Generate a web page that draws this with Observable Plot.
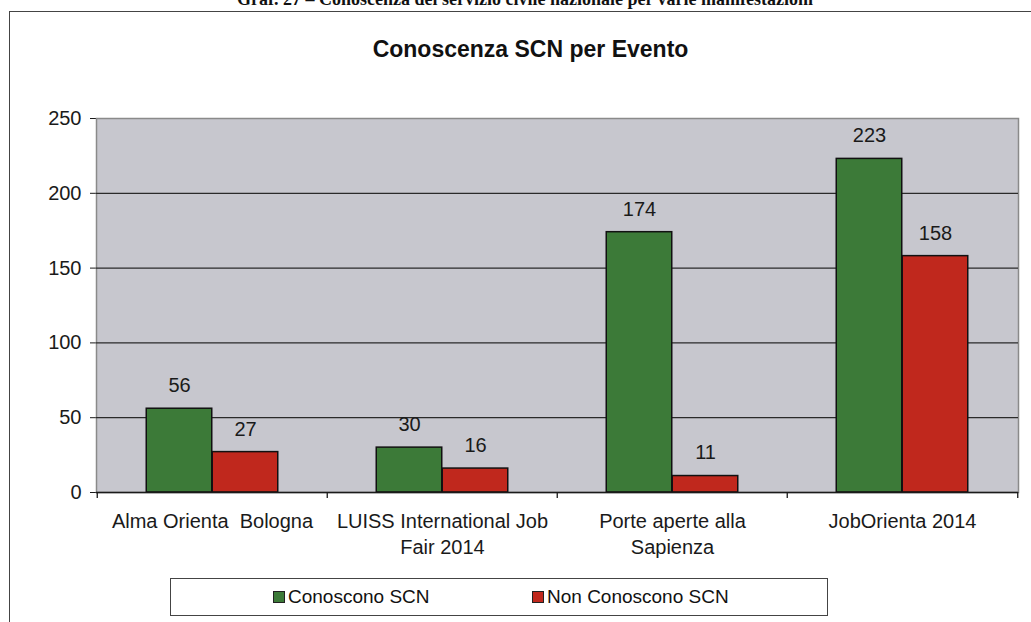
<!DOCTYPE html>
<html>
<head>
<meta charset="utf-8">
<script src="https://cdn.jsdelivr.net/npm/d3@7"></script>
<script src="https://cdn.jsdelivr.net/npm/@observablehq/plot@0.6"></script>
<style>
  html, body { margin: 0; padding: 0; background: #fff; }
  #wrap { position: relative; width: 1031px; height: 622px; overflow: hidden; background: #fff; font-family: "Liberation Sans", Arial, sans-serif; }
  #doctitle { position: absolute; left: 0; width: 1050px; top: -11px; text-align: center; font-family: "Liberation Serif", "Times New Roman", serif; font-weight: bold; font-size: 18px; line-height: 20px; color: #111; }
  #box { position: absolute; left: 9px; top: 11px; width: 1040px; height: 700px; border: 1.5px solid #444; box-sizing: border-box; }
  #title { position: absolute; left: 0; width: 1061px; top: 36px; text-align: center; font-weight: bold; font-size: 23px; color: #111; }
  #chart { position: absolute; left: 0; top: 0; }
  #legend { position: absolute; left: 170px; top: 578px; width: 658px; height: 38px; border: 1.5px solid #444; box-sizing: border-box; background: #fff; font-size: 19px; color: #111; }
  .item { position: absolute; top: 7px; display: flex; align-items: center; }
  .sw { width: 10px; height: 10px; border: 1.5px solid #222; margin-right: 3px; }
</style>
</head>
<body>
<div id="wrap">
  <div id="doctitle">Graf. 27 – Conoscenza del servizio civile nazionale per varie manifestazioni</div>
  <div id="box"></div>
  <div id="title">Conoscenza SCN per Evento</div>
  <div id="chart"></div>
  <div id="legend"></div>
</div>
<script>
// ---- data ----
const events = ["Alma Orienta Bologna", "LUISS International Job Fair 2014", "Porte aperte alla Sapienza", "JobOrienta 2014"];
const tickLabels = ["Alma Orienta  Bologna", "LUISS International Job\nFair 2014", "Porte aperte alla\nSapienza", "JobOrienta 2014"];
const seriesNames = ["Conoscono SCN", "Non Conoscono SCN"];
const conoscono = [56, 30, 174, 223];
const nonConoscono = [27, 16, 11, 158];
const yTicks = [0, 50, 100, 150, 200, 250];
const colors = ["#3c7a38", "#c0281d"];

// ---- layout ----
const W = 1031, H = 570;
const mL = 96, mR = 13, mT = 118, mB = 78;
const band = (W - mL - mR) / events.length;
const barW = 66;
const gap = (band - 2 * barW) / 2;

const rows = [];
events.forEach((e, i) => {
  rows.push({event: e, series: seriesNames[0], value: conoscono[i]});
  rows.push({event: e, series: seriesNames[1], value: nonConoscono[i]});
});
const labelRows = events.map((e, i) => ({event: e, label: tickLabels[i]}));

const chart = Plot.plot({
  width: W, height: H,
  marginLeft: mL, marginRight: mR, marginTop: mT, marginBottom: mB,
  style: {fontSize: "20px", fontFamily: "Liberation Sans, Arial, sans-serif", color: "#1a1a1a", background: "transparent", overflow: "visible"},
  x: {domain: events, padding: 0, axis: null},
  y: {domain: [0, 250], ticks: yTicks, tickSize: 6, tickPadding: 9, label: null, line: true, tickFormat: d => String(d)},
  color: {domain: seriesNames, range: colors},
  marks: [
    Plot.frame({fill: "#c7c7ce", stroke: "#8a8a8a", strokeWidth: 1.5}),
    Plot.ruleY([50, 100, 150, 200], {stroke: "#2a2a2a", strokeWidth: 1.3}),
    Plot.barY(rows.filter(d => d.series === seriesNames[0]), {x: "event", y: "value", fill: "series", stroke: "#111", strokeWidth: 1.5, insetLeft: gap, insetRight: band - gap - barW}),
    Plot.barY(rows.filter(d => d.series === seriesNames[1]), {x: "event", y: "value", fill: "series", stroke: "#111", strokeWidth: 1.5, insetLeft: gap + barW, insetRight: gap}),
    Plot.text(rows.filter(d => d.series === seriesNames[0]), {x: "event", y: "value", text: d => String(d.value), dx: gap + barW / 2 - band / 2, dy: -23, fontSize: 20, fill: "#1a1a1a"}),
    Plot.text(rows.filter(d => d.series === seriesNames[1]), {x: "event", y: "value", text: d => String(d.value), dx: gap + barW * 1.5 - band / 2, dy: -23, fontSize: 20, fill: "#1a1a1a"}),
    Plot.ruleY([0], {stroke: "#1a1a1a", strokeWidth: 1.5}),
    Plot.ruleX(events, {x: d => d, y1: 0, y2: -4, dx: -band / 2, stroke: "#1a1a1a", strokeWidth: 1.3}),
    Plot.ruleX([events[events.length - 1]], {x: d => d, y1: 0, y2: -4, dx: band / 2, stroke: "#1a1a1a", strokeWidth: 1.3}),
    Plot.text(labelRows, {x: "event", y: () => 0, text: "label", lineAnchor: "top", dy: 17, fontSize: 20, lineHeight: 1.3, fill: "#1a1a1a"})
  ]
});
document.getElementById("chart").appendChild(chart);

// ---- legend ----
const legend = document.getElementById("legend");
const legendX = [102, 361];
seriesNames.forEach((s, i) => {
  const it = document.createElement("div");
  it.className = "item";
  it.style.left = legendX[i] + "px";
  const sw = document.createElement("div");
  sw.className = "sw";
  sw.style.background = colors[i];
  const tx = document.createElement("span");
  tx.textContent = s;
  it.appendChild(sw); it.appendChild(tx);
  legend.appendChild(it);
});
</script>
</body>
</html>
